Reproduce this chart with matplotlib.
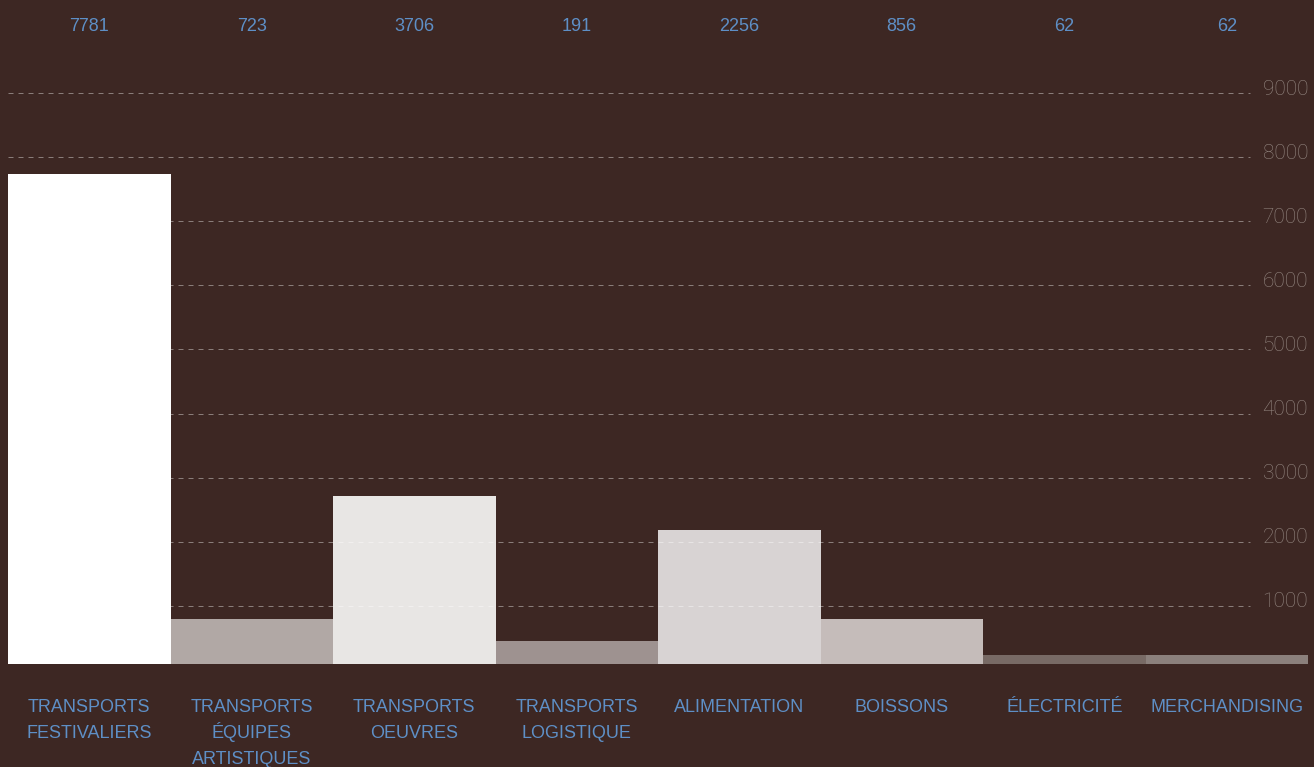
import matplotlib
matplotlib.use("Agg")
import matplotlib.pyplot as plt
import matplotlib.transforms as mtransforms

# ── Data ────────────────────────────────────────────────────────────────────
categories = [
    "TRANSPORTS\nFESTIVALIERS",
    "TRANSPORTS\nÉQUIPES\nARTISTIQUES",
    "TRANSPORTS\nOEUVRES",
    "TRANSPORTS\nLOGISTIQUE",
    "ALIMENTATION",
    "BOISSONS",
    "ÉLECTRICITÉ",
    "MERCHANDISING",
]
bar_values = [7740, 790, 2710, 450, 2180, 790, 230, 230]
top_labels = ["7781", "723", "3706", "191", "2256", "856", "62", "62"]
y_ticks = [1000, 2000, 3000, 4000, 5000, 6000, 7000, 8000, 9000]

# ── Style ───────────────────────────────────────────────────────────────────
BG = "#3d2723"
BLUE = "#5e8fc6"
TICK_GRAY = "#948781"
bar_colors = ["#ffffff", "#b1a8a5", "#e8e6e4", "#9e9290",
              "#d8d3d3", "#c5bcba", "#786a65", "#8b807c"]

plt.rcParams["font.family"] = ["Liberation Sans", "DejaVu Sans"]

W, H = 1314, 767
fig = plt.figure(figsize=(W / 100, H / 100), dpi=100, facecolor=BG)
ax = fig.add_axes([8 / W, (H - 664) / H, 1300 / W, 664 / H])
ax.set_facecolor(BG)

x = list(range(len(categories)))
ax.bar(x, bar_values, width=1.0, color=bar_colors, edgecolor="none", zorder=2)

ax.set_xlim(-0.5, len(categories) - 0.5)
ax.set_ylim(89, 10456)

# dashed gridlines drawn over the bars, stopping short of the tick labels
for v in y_ticks:
    ax.axhline(v, xmin=0, xmax=(1250 - 8) / 1300, color="white", alpha=0.4,
               lw=0.72, ls=(0, (5, 5)), zorder=3)

for s in ax.spines.values():
    s.set_visible(False)

# y labels inside the plot on the right, baseline just under each gridline
ax.set_yticks([])
ytrans = mtransforms.blended_transform_factory(ax.transAxes, ax.transData)
ytrans = ytrans + mtransforms.ScaledTranslation(0, -0.017, fig.dpi_scale_trans)
for v in y_ticks:
    ax.text(1.0, v, str(v), transform=ytrans, ha="right", va="baseline",
            fontsize=15, color=TICK_GRAY, family=["Roboto", "DejaVu Sans"],
            fontweight="light")

# category labels, one text per line so accents don't push the line pitch
ax.set_xticks([])
xtrans = mtransforms.blended_transform_factory(ax.transData, ax.transAxes)
for i, cat in enumerate(categories):
    for j, line in enumerate(cat.split("\n")):
        off = mtransforms.ScaledTranslation(0, -(0.485 + 0.26 * j), fig.dpi_scale_trans)
        ax.text(i, 0, line, transform=xtrans + off, ha="center", va="baseline",
                fontsize=13, color=BLUE, clip_on=False)

# value labels across the top
for i, lab in enumerate(top_labels):
    ax.text(i, (664 - 30.7) / 664, lab, transform=xtrans, ha="center",
            va="baseline", fontsize=13, color=BLUE)

fig.savefig("out.png", dpi=100, facecolor=BG)
plt.close(fig)
